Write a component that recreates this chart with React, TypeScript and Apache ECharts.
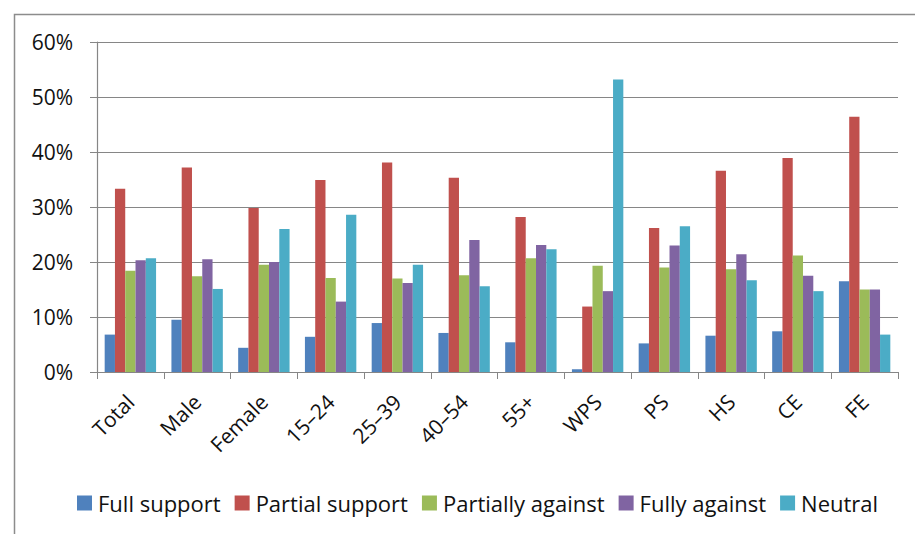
import React, { useEffect, useRef } from "react";
import * as echarts from "echarts";

const categories = ["Total", "Male", "Female", "15–24", "25–39", "40–54", "55+", "WPS", "PS", "HS", "CE", "FE"];
const fullSupport = [6.8, 9.5, 4.4, 6.4, 8.9, 7.1, 5.4, 0.5, 5.2, 6.6, 7.4, 16.5];
const partialSupport = [33.3, 37.2, 29.8, 34.9, 38.1, 35.3, 28.2, 11.9, 26.2, 36.6, 38.9, 46.4];
const partiallyAgainst = [18.4, 17.4, 19.5, 17.1, 17.0, 17.6, 20.7, 19.3, 19.0, 18.7, 21.2, 15.0];
const fullyAgainst = [20.3, 20.5, 20.0, 12.8, 16.2, 24.0, 23.1, 14.7, 23.0, 21.4, 17.5, 15.0];
const neutral = [20.7, 15.1, 26.0, 28.6, 19.5, 15.6, 22.3, 53.2, 26.5, 16.7, 14.7, 6.8];
const seriesNames = ["Full support", "Partial support", "Partially against", "Fully against", "Neutral"];
const colors = ["#4F81BD", "#C0504D", "#9BBB59", "#8064A2", "#4BACC6"];

export default function App() {
  const ref = useRef<HTMLDivElement>(null);
  useEffect(() => {
    if (!ref.current) return;
    const chart = echarts.init(ref.current, undefined, { renderer: "svg" });
    const data = [fullSupport, partialSupport, partiallyAgainst, fullyAgainst, neutral];
    const font = "'Open Sans', sans-serif";
    chart.setOption({
      animation: false,
      color: colors,
      textStyle: { fontFamily: font },
      grid: { left: 97, right: 17, top: 42, bottom: 162, containLabel: false },
      graphic: [
        {
          type: "polyline",
          shape: { points: [[14.5, 540], [14.5, 14.5], [920, 14.5]] },
          style: { stroke: "#8c8c8c", lineWidth: 1.5, fill: "none" },
          silent: true,
        },
      ],
      legend: {
        data: seriesNames,
        left: 72,
        top: 487,
        itemWidth: 15,
        itemHeight: 15,
        itemGap: 14,
        icon: "rect",
        textStyle: { fontSize: 22, color: "#111", fontFamily: font, padding: [0, 0, 0, 1] },
      },
      xAxis: {
        type: "category",
        data: categories,
        axisLine: { lineStyle: { color: "#868686", width: 1.2 } },
        axisTick: { show: true, length: 7, lineStyle: { color: "#868686" } },
        axisLabel: { rotate: 45, fontSize: 21, color: "#111", margin: 26, fontFamily: font, interval: 0 },
      },
      yAxis: {
        type: "value",
        min: 0,
        max: 60,
        interval: 10,
        axisLine: { show: true, lineStyle: { color: "#868686", width: 1.2 } },
        axisTick: { show: true, length: 7, lineStyle: { color: "#868686" } },
        splitLine: { lineStyle: { color: "#868686", width: 1.2 } },
        axisLabel: { formatter: "{value}%", fontSize: 21, color: "#111", margin: 24, fontFamily: font },
      },
      series: data.map((d, i) => ({
        name: seriesNames[i],
        type: "bar",
        data: d,
        barGap: "0%",
        barCategoryGap: "23%",
      })),
    });
    return () => chart.dispose();
  }, []);
  return <div ref={ref} style={{ position: "absolute", left: 0, top: 0, width: 915, height: 534 }} />;
}
